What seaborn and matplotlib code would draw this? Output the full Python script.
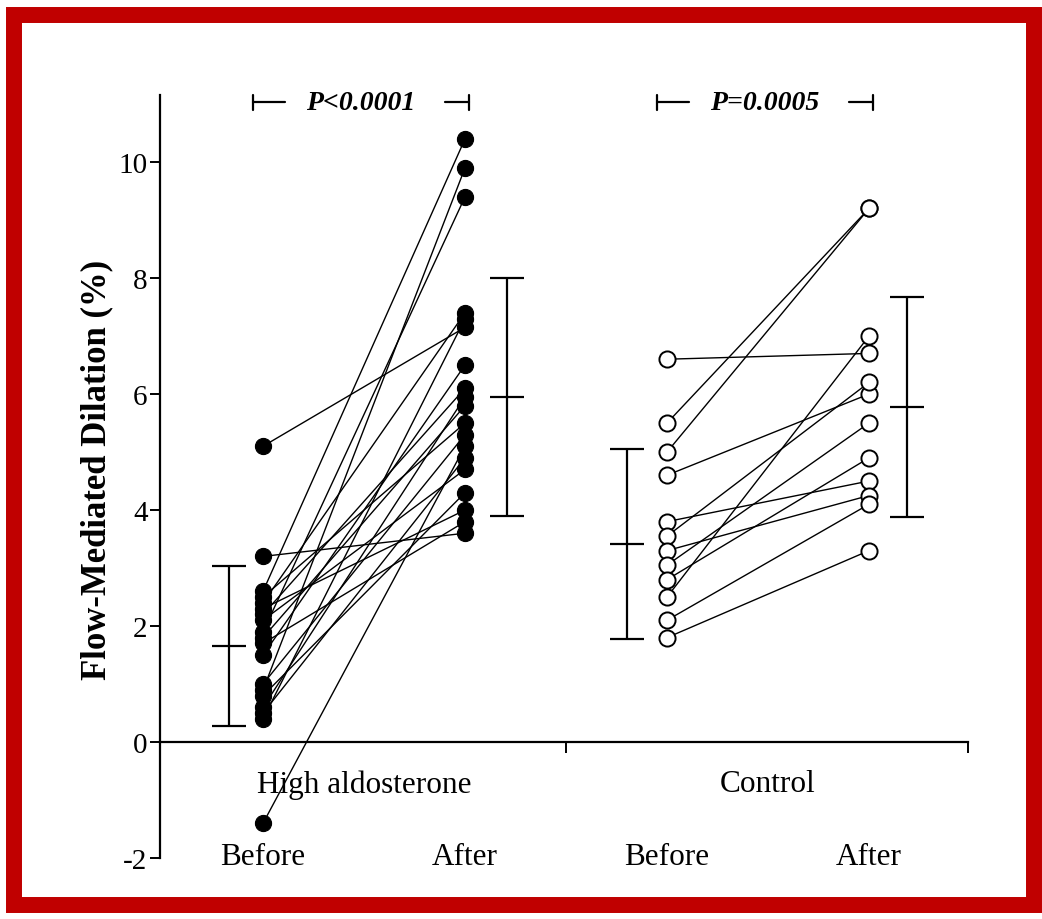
import numpy as np
import pandas as pd
import matplotlib
matplotlib.use("Agg")
import matplotlib.pyplot as plt
from matplotlib.patches import Rectangle
import seaborn as sns

# Flow-mediated dilation (%) per subject, before and after treatment
ha_before = [5.1, 3.2, -1.4, 2.6, 0.9, 1.9, 2.5, 2.4, 2.3, 2.2, 2.1, 1.8, 1.7, 1.5, 1.0, 0.8, 0.6, 0.5, 0.4]
ha_after = [7.15, 3.6, 5.1, 10.4, 9.9, 9.4, 5.5, 7.4, 4.0, 6.1, 4.7, 5.8, 3.8, 6.5, 5.3, 4.3, 5.95, 4.9, 7.3]
ctl_before = [6.6, 5.5, 5.0, 4.6, 3.8, 3.55, 3.3, 3.05, 2.8, 2.5, 2.1, 1.8]
ctl_after = [6.7, 9.2, 9.2, 6.0, 4.5, 6.2, 4.25, 5.5, 4.9, 7.0, 4.1, 3.3]

# Group summaries (mean +/- SD) in the order HA before, HA after, control before, control after
summary_mean = [1.66, 5.95, 3.41, 5.78]
summary_sd = [1.38, 2.05, 1.64, 1.90]

groups = ["High aldosterone", "Control"]
phases = ["Before", "After"]
p_labels = ["P<0.0001", "P=0.0005"]

# Long-form table: one row per subject and phase
rows = []
for g_idx, (grp, before, after) in enumerate([(groups[0], ha_before, ha_after),
                                              (groups[1], ctl_before, ctl_after)]):
    for s_idx, (b, a) in enumerate(zip(before, after)):
        sid = f"{grp[:2]}{s_idx}"
        rows.append(dict(subject=sid, group=grp, phase="Before", value=b, xpos=2 * g_idx))
        rows.append(dict(subject=sid, group=grp, phase="After", value=a, xpos=2 * g_idx + 1))
df = pd.DataFrame(rows)

sns.set_theme(style="white")
plt.rcParams["font.family"] = ["Liberation Serif", "DejaVu Serif"]
plt.rcParams["axes.unicode_minus"] = False
plt.rcParams["text.color"] = "black"
plt.rcParams["xtick.color"] = "black"
plt.rcParams["ytick.color"] = "black"
plt.rcParams["axes.edgecolor"] = "black"

fig = plt.figure(figsize=(10.42, 9.2), dpi=100)
fig.patch.set_facecolor("white")
ax = fig.add_axes([0.1536, 0.0663, 0.7754, 0.829])

# Paired lines, one per subject
for grp in groups:
    sns.lineplot(data=df[df.group == grp], x="xpos", y="value", units="subject",
                 estimator=None, color="black", lw=1.0, ax=ax, legend=False, zorder=2)

# Subject markers: filled for high aldosterone, open for control
sns.scatterplot(data=df[df.group == groups[0]], x="xpos", y="value", ax=ax,
                s=135, color="black", edgecolor="black", linewidth=0.8, zorder=3, legend=False)
sns.scatterplot(data=df[df.group == groups[1]], x="xpos", y="value", ax=ax,
                s=135, facecolor="white", edgecolor="black", linewidth=1.4, zorder=3, legend=False)

# Mean +/- SD bars beside each column
err_x = [-0.17, 1.21, 1.80, 3.19]
ax.errorbar(err_x, summary_mean, yerr=summary_sd, fmt="none", ecolor="black",
            elinewidth=1.6, capsize=12, capthick=1.6, zorder=2)
ax.plot(err_x, summary_mean, ls="none", marker="_", markersize=24,
        markeredgewidth=1.6, color="black", zorder=2)

# Axes styling
ax.set_xlim(-0.51, 3.49)
ax.set_ylim(-2, 11.15)
ax.set_yticks([-2, 0, 2, 4, 6, 8, 10])
ax.set_yticklabels(["-2", "0", "2", "4", "6", "8", "10"], fontsize=21, color="black")
ax.tick_params(axis="y", direction="out", length=7, width=1.4, pad=2, left=True)
ax.spines["top"].set_visible(False)
ax.spines["right"].set_visible(False)
ax.spines["left"].set_linewidth(1.6)
ax.spines["bottom"].set_position(("data", 0))
ax.spines["bottom"].set_linewidth(1.6)
ax.set_xticks([1.5, 3.49])
ax.set_xticklabels(["", ""])
ax.tick_params(axis="x", direction="out", length=8, width=1.4, bottom=True)
ax.set_xlabel("")
ax.set_ylabel("")
ax.grid(False)
ax.patch.set_alpha(0)

# Group and phase labels
for g_idx, grp in enumerate(groups):
    ax.text(2 * g_idx + 0.5, -0.72, grp, ha="center", va="center", fontsize=22.5, color="black")
    for p_idx, ph in enumerate(phases):
        ax.text(2 * g_idx + p_idx, -1.98, ph, ha="center", va="center", fontsize=22.5, color="black")

# Significance brackets above each group
for g_idx, lab in enumerate(p_labels):
    x0, x1 = 2 * g_idx - 0.05, 2 * g_idx + 1.02
    yb = 11.03
    ax.text((x0 + x1) / 2, yb, lab, ha="center", va="center", fontsize=20,
            fontstyle="italic", fontweight="bold", color="black")
    ax.plot([x0, x0 + 0.16], [yb, yb], color="black", lw=1.6, clip_on=False)
    ax.plot([x1 - 0.12, x1], [yb, yb], color="black", lw=1.6, clip_on=False)
    for xe in (x0, x1):
        ax.plot([xe, xe], [yb - 0.13, yb + 0.13], color="black", lw=1.6, clip_on=False)

fig.text(97 / 1042, 1 - 470 / 920, "Flow-Mediated Dilation (%)", rotation=90,
         ha="center", va="center", fontsize=25, fontweight="bold", color="black")

# Dark red frame around the figure
fig.patches.append(Rectangle((13.5 / 1042, 1 - 906 / 920), (1034 - 13.5) / 1042, (906 - 16) / 920,
                             transform=fig.transFigure, fill=False, edgecolor="#C00000",
                             linewidth=11.5, zorder=10))

fig.savefig("out.png", dpi=100, facecolor="white")
